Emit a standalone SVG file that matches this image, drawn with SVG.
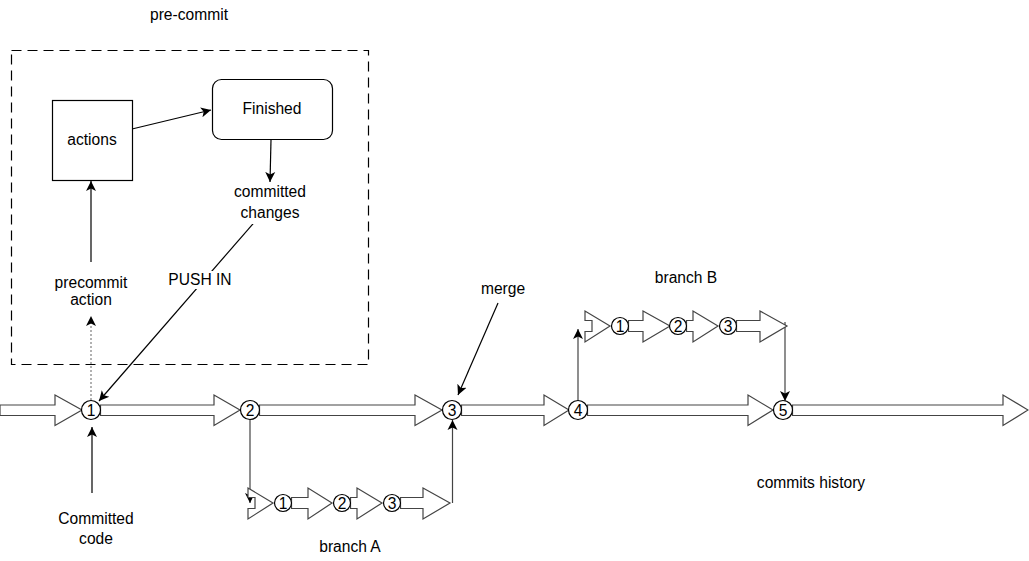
<svg xmlns="http://www.w3.org/2000/svg" width="1029" height="561" viewBox="0 0 1029 561">
<style>
text{font-family:"Liberation Sans",Arial,sans-serif;font-size:15.6px;fill:#000;text-anchor:middle}
.fa{fill:#fff;stroke:#444;stroke-width:1.2;stroke-linejoin:miter}
.c{fill:#fff;stroke:#000;stroke-width:1.2}
.ln{fill:none;stroke:#000;stroke-width:1.2}
.lg{fill:none;stroke:#444;stroke-width:1.2}
</style>
<defs>
<marker id="ah" markerUnits="userSpaceOnUse" markerWidth="12" markerHeight="12" refX="10" refY="5" orient="auto" viewBox="0 0 12 10">
<path d="M0,0 L10,5 L0,10 L2.5,5 Z" fill="#000"/>
</marker>
<marker id="ahg" markerUnits="userSpaceOnUse" markerWidth="12" markerHeight="12" refX="10" refY="5" orient="auto" viewBox="0 0 12 10">
<path d="M0,0 L10,5 L0,10 L2.5,5 Z" fill="#000"/>
</marker>
</defs>
<rect width="1029" height="561" fill="#fff"/>

<g id="precommit-frame">
<rect x="11.5" y="50.5" width="357" height="314" fill="none" stroke="#000" stroke-width="1.2" stroke-dasharray="10,6"/>
<text x="189" y="20">pre-commit</text>
</g>

<g id="connectors">
<line class="ln" x1="132" y1="129" x2="211" y2="110" marker-end="url(#ah)"/>
<line class="ln" x1="271" y1="140" x2="270" y2="182" marker-end="url(#ah)"/>
<line class="ln" x1="258" y1="218" x2="99" y2="401" marker-end="url(#ah)"/>
<line class="ln" x1="91" y1="262" x2="91" y2="181" marker-end="url(#ah)"/>
<line x1="91" y1="400" x2="91" y2="316" stroke="#888" stroke-width="1.3" stroke-dasharray="2,2" marker-end="url(#ahg)"/>
<line class="ln" x1="92" y1="493" x2="92" y2="427" marker-end="url(#ah)"/>
<line class="ln" x1="498" y1="303" x2="458" y2="395" marker-end="url(#ah)"/>
<line class="lg" x1="250" y1="419.5" x2="250" y2="503" marker-end="url(#ah)"/>
<line class="lg" x1="452.5" y1="503" x2="452.5" y2="420" marker-end="url(#ah)"/>
<line class="lg" x1="578" y1="401" x2="578" y2="329" marker-end="url(#ah)"/>
<line class="lg" x1="785" y1="322" x2="785" y2="401" marker-end="url(#ah)"/>
</g>

<g id="main-line">
<path class="fa" d="M0,405 L55,405 L55,395 L82,410 L55,425.5 L55,415.5 L0,415.5 Z"/>
<path class="fa" d="M100.5,405 L214,405 L214,395 L240,410 L214,425.5 L214,415.5 L100.5,415.5 Z"/>
<path class="fa" d="M259.5,405 L415,405 L415,395 L442,410 L415,425.5 L415,415.5 L259.5,415.5 Z"/>
<path class="fa" d="M461.5,405 L544,405 L544,395 L569,410 L544,425.5 L544,415.5 L461.5,415.5 Z"/>
<path class="fa" d="M587.5,405 L748,405 L748,395 L773,410 L748,425.5 L748,415.5 L587.5,415.5 Z"/>
<path class="fa" d="M792.5,405 L1003,405 L1003,395 L1028,410 L1003,425.5 L1003,415.5 L792.5,415.5 Z"/>
</g>

<g id="commit-1"><circle class="c" cx="91" cy="410" r="9.5"/><text x="91" y="415.5">1</text></g>
<g id="commit-2"><circle class="c" cx="250" cy="410" r="9.5"/><text x="250" y="415.5">2</text></g>
<g id="commit-3"><circle class="c" cx="452" cy="410" r="9.5"/><text x="452" y="415.5">3</text></g>
<g id="commit-4"><circle class="c" cx="578" cy="410" r="9.5"/><text x="578" y="415.5">4</text></g>
<g id="commit-5"><circle class="c" cx="783" cy="410" r="9.5"/><text x="783" y="415.5">5</text></g>

<g id="branch-a">
<path class="fa" d="M255,497.5 L248,497.5 L248,488 L273,503 L248,519 L248,508.5 L255,508.5 Z"/>
<path class="fa" d="M291.5,497.5 L308,497.5 L308,488 L332,503 L308,519 L308,508.5 L291.5,508.5 Z"/>
<path class="fa" d="M350.5,497.5 L357,497.5 L357,488 L382,503 L357,519 L357,508.5 L350.5,508.5 Z"/>
<path class="fa" d="M400.5,497.5 L423,497.5 L423,488 L450,503 L423,519 L423,508.5 L400.5,508.5 Z"/>
<circle class="c" cx="283" cy="503" r="8.5"/><text x="283" y="508.5">1</text>
<circle class="c" cx="342" cy="503" r="8.5"/><text x="342" y="508.5">2</text>
<circle class="c" cx="392" cy="503" r="8.5"/><text x="392" y="508.5">3</text>
<text x="350" y="552">branch A</text>
</g>

<g id="branch-b">
<path class="fa" d="M592,320.5 L585,320.5 L585,311 L610,326 L585,342 L585,331.5 L592,331.5 Z"/>
<path class="fa" d="M628.5,320.5 L643,320.5 L643,311 L670,326 L643,342 L643,331.5 L628.5,331.5 Z"/>
<path class="fa" d="M686.5,320.5 L693,320.5 L693,311 L718,326 L693,342 L693,331.5 L686.5,331.5 Z"/>
<path class="fa" d="M736.5,320.5 L760,320.5 L760,311 L787,326 L760,342 L760,331.5 L736.5,331.5 Z"/>
<circle class="c" cx="620" cy="326" r="8.5"/><text x="620" y="331.5">1</text>
<circle class="c" cx="678" cy="326" r="8.5"/><text x="678" y="331.5">2</text>
<circle class="c" cx="728" cy="326" r="8.5"/><text x="728" y="331.5">3</text>
<text x="686" y="283">branch B</text>
</g>

<g id="actions"><rect x="52.5" y="100.5" width="80" height="80" fill="#fff" stroke="#000" stroke-width="1.2"/><text x="92" y="145">actions</text></g>
<g id="finished"><rect x="212.5" y="79.5" width="120" height="60" rx="9" fill="#fff" stroke="#000" stroke-width="1.2"/><text x="272" y="114">Finished</text></g>

<g id="labels">
<rect x="228" y="184" width="84" height="40" fill="#fff"/>
<text x="270" y="197">committed</text>
<text x="270" y="218">changes</text>
<rect x="52" y="270" width="78" height="40" fill="#fff"/>
<text x="91" y="288">precommit</text>
<text x="91" y="305">action</text>
<rect x="167" y="271" width="66" height="18" fill="#fff"/>
<text x="200" y="285">PUSH IN</text>
<text x="503" y="294">merge</text>
<text x="96" y="524">Committed</text>
<text x="96" y="544">code</text>
<text x="811" y="488">commits history</text>
</g>
</svg>
